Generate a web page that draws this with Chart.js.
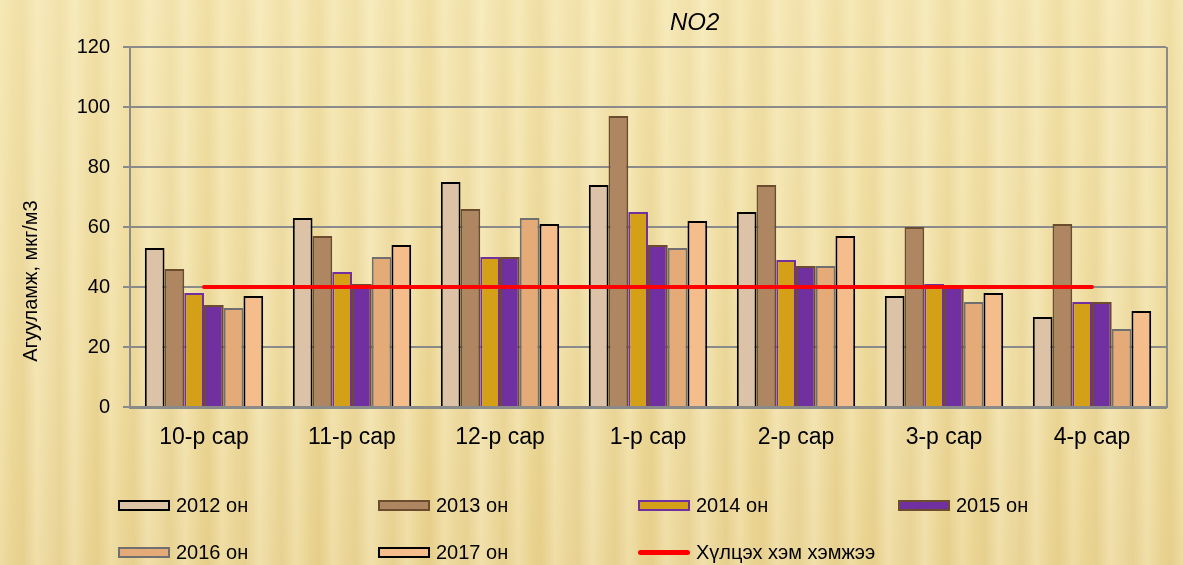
<!DOCTYPE html>
<html>
<head>
<meta charset="utf-8">
<title>NO2</title>
<script src="https://cdn.jsdelivr.net/npm/chart.js@4/dist/chart.umd.min.js"></script>
<style>
  html, body {
    margin: 0;
    width: 1183px;
    height: 565px;
    overflow: hidden;
    font-family: "Liberation Sans", Arial, sans-serif;
  }
  body {
    background-color: #ebd694;
    background-image:
      linear-gradient(to bottom, rgba(255, 246, 205, 0.35), rgba(255, 246, 205, 0.05) 65%, rgba(215, 180, 100, 0.12)),
      repeating-linear-gradient(90deg, rgba(255, 248, 215, 0.35) 0px, rgba(255, 248, 215, 0) 14px, rgba(205, 170, 85, 0.1) 23px, rgba(255, 248, 215, 0.35) 37px),
      repeating-linear-gradient(90deg, rgba(255, 255, 255, 0) 0px, rgba(255, 255, 255, 0.14) 53px, rgba(255, 255, 255, 0) 107px);
  }
  #wrap { position: relative; width: 1183px; height: 470px; }
  #legend { position: absolute; left: 0; top: 0; width: 1183px; height: 565px; pointer-events: none; }
  .item { position: absolute; display: flex; align-items: center; font-size: 20px; color: #000; white-space: nowrap; }
  .swatch { width: 52px; height: 11px; box-sizing: border-box; border: 2px solid; margin-right: 6px; }
  .swatch.line { height: 5px; border: none; border-radius: 3px; }
</style>
</head>
<body>
<div id="wrap"><canvas id="bar-chart"></canvas></div>
<div id="legend"></div>
<script>
const months = ["10-р сар", "11-р сар", "12-р сар", "1-р сар", "2-р сар", "3-р сар", "4-р сар"];

const y2012 = [53, 63, 75, 74, 65, 37, 30];
const y2013 = [46, 57, 66, 97, 74, 60, 61];
const y2014 = [38, 45, 50, 65, 49, 41, 35];
const y2015 = [34, 41, 50, 54, 47, 40, 35];
const y2016 = [33, 50, 63, 53, 47, 35, 26];
const y2017 = [37, 54, 61, 62, 57, 38, 32];
const limit = [40, 40, 40, 40, 40, 40, 40];

const yTicks = [0, 20, 40, 60, 80, 100, 120];

const FONT = '"Liberation Sans", Arial, sans-serif';
const GRID = "#8a8a8a";

function bars(label, data, fill, border) {
  return {
    type: "bar",
    label: label,
    data: data,
    backgroundColor: fill,
    borderColor: border,
    borderWidth: 2,
    categoryPercentage: 0.8,
    barPercentage: 1.0,
    order: 1,
  };
}

// title, y-axis caption and the right frame edge
const extras = {
  id: "extras",
  afterDraw(chart) {
    const { ctx, chartArea: a } = chart;
    ctx.save();
    ctx.strokeStyle = GRID;
    ctx.lineWidth = 2;
    ctx.beginPath();
    ctx.moveTo(a.right + 1, a.top);
    ctx.lineTo(a.right + 1, a.bottom + 1);
    ctx.stroke();

    ctx.fillStyle = "#000";
    ctx.textAlign = "center";
    ctx.textBaseline = "middle";
    ctx.font = "italic 24px " + FONT;
    ctx.fillText("NO2", a.left + a.width * 0.545, 23);

    ctx.font = "20px " + FONT;
    ctx.translate(31, a.top + a.height * 0.65);
    ctx.rotate(-Math.PI / 2);
    ctx.fillText("Агууламж, мкг/м3", 0, 0);
    ctx.restore();
  },
};

const chart = new Chart(document.getElementById("bar-chart"), {
  data: {
    labels: months,
    datasets: [
      {
        type: "line",
        label: "Хүлцэх хэм хэмжээ",
        data: limit,
        borderColor: "#ff0000",
        backgroundColor: "#ff0000",
        borderWidth: 4,
        borderCapStyle: "round",
        pointRadius: 0,
        fill: false,
        order: 0,
      },
      bars("2012 он", y2012, "#dcc3a7", "#000000"),
      bars("2013 он", y2013, "#ae8661", "#6b4d2e"),
      bars("2014 он", y2014, "#d4a017", "#7030a0"),
      bars("2015 он", y2015, "#7030a0", "#6b4d2e"),
      bars("2016 он", y2016, "#e4ab78", "#6f6f6f"),
      bars("2017 он", y2017, "#f4bd8b", "#000000"),
    ],
  },
  options: {
    responsive: true,
    maintainAspectRatio: false,
    animation: false,
    layout: { padding: { top: 47, right: 17, bottom: 0, left: 0 } },
    plugins: {
      legend: { display: false },
      title: { display: false },
      tooltip: { enabled: false },
    },
    scales: {
      x: {
        offset: true,
        grid: { display: false, drawTicks: false },
        border: { display: true, color: GRID, width: 3 },
        ticks: { color: "#000", font: { family: FONT, size: 23 }, padding: 17, maxRotation: 0 },
        afterFit(scale) { scale.height = 63; },
      },
      y: {
        min: 0,
        max: 120,
        afterBuildTicks(scale) { scale.ticks = yTicks.map(v => ({ value: v })); },
        grid: { color: GRID, lineWidth: 2, tickLength: 7 },
        border: { display: true, color: GRID, width: 2 },
        ticks: { color: "#000", font: { family: FONT, size: 20 }, padding: 13 },
        afterFit(scale) { scale.width = 130; },
      },
    },
  },
  plugins: [extras],
});

// legend laid out in a 4-column grid below the chart
const order = [1, 2, 3, 4, 5, 6, 0];
const legend = document.getElementById("legend");
order.forEach((di, i) => {
  const ds = chart.data.datasets[di];
  const item = document.createElement("div");
  item.className = "item";
  item.style.left = (118 + (i % 4) * 260) + "px";
  item.style.top = (494 + Math.floor(i / 4) * 47) + "px";
  const sw = document.createElement("span");
  if (ds.type === "line") {
    sw.className = "swatch line";
    sw.style.background = ds.borderColor;
  } else {
    sw.className = "swatch";
    sw.style.background = ds.backgroundColor;
    sw.style.borderColor = ds.borderColor;
  }
  const tx = document.createElement("span");
  tx.textContent = ds.label;
  item.appendChild(sw);
  item.appendChild(tx);
  legend.appendChild(item);
});
</script>
</body>
</html>
